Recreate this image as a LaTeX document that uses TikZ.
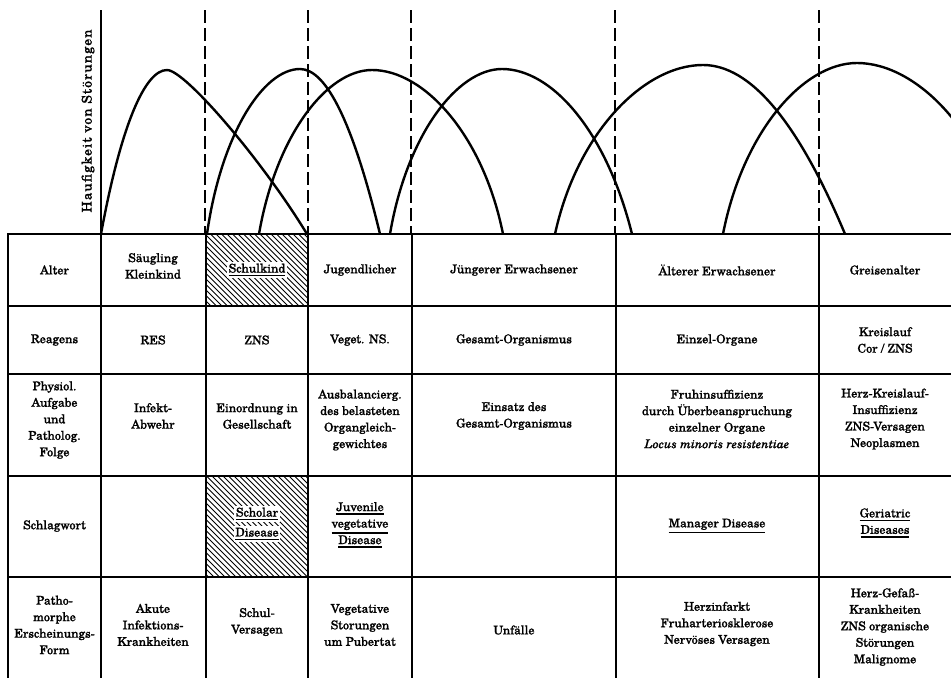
\documentclass[tikz,border=0pt]{standalone}
\usepackage{fontspec}
\setmainfont{texgyreschola}[Extension=.otf,UprightFont=*-regular,ItalicFont=*-italic,BoldFont=*-bold,BoldItalicFont=*-bolditalic,FakeBold=1.3]
\newcommand\ulin[1]{\leavevmode\vtop{\hbox{#1}\kern2.2pt\hrule height1.4pt}}
\begin{document}
\begin{tikzpicture}[x=1pt,y=-1pt,
  txt/.style={align=center,font=\fontsize{12.1}{16.5}\selectfont,inner sep=1pt},
  wtxt/.style={txt,fill=white,inner sep=1.8pt},
  gridline/.style={line width=2pt},
  arch/.style={line width=2.4pt},
  guide/.style={line width=2pt,dash pattern=on 13pt off 5pt},
  hatchline/.style={line width=1pt}]
\useasboundingbox (0,0) rectangle (951,678);
% hatched cells
\begin{scope}
\clip (206,234) rectangle (308,306);
\foreach \k in {-78,-72.5,...,105} \draw[hatchline] (206+\k,234) -- ++(78,78);
\end{scope}
\begin{scope}
\clip (206,476) rectangle (308,577);
\foreach \k in {-104,-98.5,...,105} \draw[hatchline] (206+\k,476) -- ++(104,104);
\end{scope}
% grid
\foreach \yy in {234,306,374,476,577} \draw[gridline] (7,\yy) -- (951,\yy);
\foreach \xx in {8,101,206,308,412,616,819} \draw[gridline] (\xx,234) -- (\xx,678);
% axis and guides
\draw[line width=2.5pt] (101,10) -- (101,234);
\foreach \xx in {205,308,411,615,819} \draw[guide] (\xx,10) -- (\xx,234);
\node[txt,rotate=90,font=\fontsize{13.5}{15}\selectfont\addfontfeature{LetterSpace=8}] (ylab) at (88,121) {Haufigkeit von Störungen};
% arches
\begin{scope}
\clip (0,0) rectangle (951,235);
\draw[arch] (101,234) .. controls (121,125) and (145,70) .. (167,70)
  .. controls (185,70) and (262,160) .. (307,234);
\draw[arch] (207,234) .. controls (221,135) and (263,69) .. (300,69)
  .. controls (326.7,69) and (353.3,124) .. (380,234);
\draw[arch] (259,234) .. controls (276,135.6) and (326.8,70) .. (372,70)
  .. controls (424.4,70) and (483.3,135.6) .. (503,234);
\draw[arch] (390,234) .. controls (406.8,135) and (457.2,69) .. (502,69)
  .. controls (551.4,69) and (606,130) .. (632,234);
\draw[arch] (555,234) .. controls (577.2,132.6) and (643.8,65) .. (703,65)
  .. controls (750.3,65) and (797.7,121.3) .. (845,234);
\draw[arch] (723,234) .. controls (743.1,131.4) and (803.4,63) .. (857,63)
  .. controls (916.6,63) and (983.6,131.4) .. (1006,234);
\end{scope}
% row 1
\node[txt] (a0) at (54.5,270) {Alter};
\node[txt] (a1) at (153,266) {Säugling\\Kleinkind};
\node[wtxt] (a2) at (257,270) {\ulin{Schulkind}};
\node[txt] (a3) at (360,270) {Jugendlicher};
\node[txt] (a4) at (514,270) {Jüngerer Erwachsener};
\node[txt] (a5) at (717,270) {Älterer Erwachsener};
\node[txt] (a6) at (885,270) {Greisenalter};
% row 2
\node[txt] (b0) at (54.5,340) {Reagens};
\node[txt] (b1) at (153,340) {RES};
\node[txt] (b2) at (257,340) {ZNS};
\node[txt] (b3) at (360,340) {Veget. NS.};
\node[txt] (b4) at (514,340) {Gesamt-Organismus};
\node[txt] (b5) at (717,340) {Einzel-Organe};
\node[txt] (b6) at (885,340) {Kreislauf\\Cor / ZNS};
% row 3
\node[txt] (c0) at (54.5,420) {Physiol.\\Aufgabe\\und\\Patholog.\\Folge};
\node[txt] (c1) at (153,416) {Infekt-\\Abwehr};
\node[txt] (c2) at (257,416) {Einordnung in\\Gesellschaft};
\node[txt] (c3) at (360,420) {Ausbalancierg.\\des belasteten\\Organgleich-\\gewichtes};
\node[txt] (c4) at (514,416) {Einsatz des\\Gesamt-Organismus};
\node[txt] (c5) at (717,419) {Fruhinsuffizienz\\durch Überbeanspruchung\\einzelner Organe\\\textit{Locus minoris resistentiae}};
\node[txt] (c6) at (885,419) {Herz-Kreislauf-\\Insuffizienz\\ZNS-Versagen\\Neoplasmen};
% row 4
\node[txt] (d0) at (54.5,526) {Schlagwort};
\node[wtxt] (d2a) at (257,514) {\ulin{Scholar}};
\node[wtxt] (d2b) at (257,534) {\ulin{Disease}};
\node[txt] (d3) at (360,525) {\ulin{Juvenile}\\\ulin{vegetative}\\\ulin{Disease}};
\node[txt] (d5) at (717,526) {\ulin{Manager Disease}};
\node[txt] (d6) at (885,523) {\ulin{Geriatric}\\\ulin{Diseases}};
% row 5
\node[txt] (e0) at (54.5,625) {Patho-\\morphe\\Erscheinungs-\\Form};
\node[txt] (e1) at (153,625) {Akute\\Infektions-\\Krankheiten};
\node[txt] (e2) at (257,622) {Schul-\\Versagen};
\node[txt] (e3) at (360,625) {Vegetative\\Storungen\\um Pubertat};
\node[txt] (e4) at (514,630) {Unfälle};
\node[txt] (e5) at (717,624) {Herzinfarkt\\Fruharteriosklerose\\Nervöses Versagen};
\node[txt] (e6) at (885,627) {Herz-Gefaß-\\Krankheiten\\ZNS organische\\Störungen\\Malignome};
\end{tikzpicture}
\end{document}
